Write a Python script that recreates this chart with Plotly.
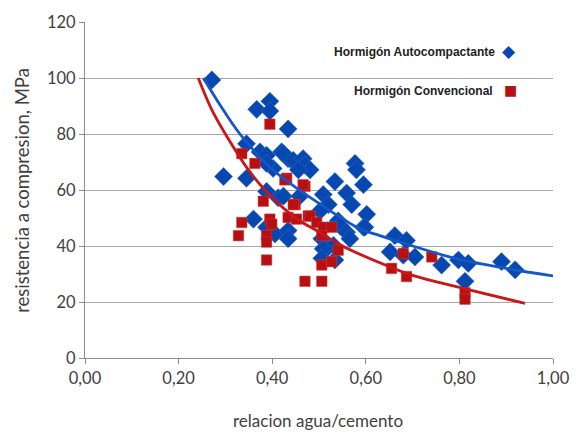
import plotly.graph_objects as go

# Hormigón Autocompactante (blue diamonds)
auto_x = [0.271, 0.367, 0.395, 0.395, 0.434, 0.345, 0.374, 0.388, 0.420, 0.434,
          0.402, 0.388, 0.452, 0.296, 0.345, 0.388, 0.413, 0.459, 0.360, 0.406,
          0.434, 0.434, 0.388, 0.424, 0.445, 0.466, 0.470, 0.481, 0.456, 0.577,
          0.580, 0.534, 0.595, 0.559, 0.509, 0.570, 0.520, 0.602, 0.595, 0.424,
          0.502, 0.541, 0.545, 0.559, 0.566, 0.506, 0.662, 0.652, 0.516, 0.531,
          0.509, 0.506, 0.534, 0.598, 0.687, 0.680, 0.705, 0.762, 0.798, 0.819,
          0.812, 0.890, 0.919]
auto_y = [99.3, 88.8, 91.7, 88.2, 81.8, 76.5, 73.6, 72.4, 73.6, 71.2,
          67.7, 69.5, 68.9, 64.8, 64.2, 59.5, 57.2, 57.8, 49.6, 44.3,
          45.5, 42.6, 46.7, 73.0, 70.6, 71.2, 68.9, 67.2, 67.2, 69.5,
          67.2, 63.0, 61.9, 58.9, 58.4, 54.8, 54.8, 51.3, 46.7, 57.8,
          52.5, 49.0, 47.2, 44.9, 42.6, 42.6, 43.7, 37.9, 39.0, 40.2,
          39.0, 35.6, 35.0, 46.7, 42.0, 36.7, 36.1, 33.2, 35.0, 33.8,
          27.4, 34.4, 31.5]

# Hormigón Convencional (red squares)
conv_x = [0.395, 0.335, 0.363, 0.431, 0.381, 0.449, 0.470, 0.335, 0.328, 0.395,
          0.399, 0.388, 0.388, 0.388, 0.434, 0.452, 0.477, 0.470, 0.427, 0.466,
          0.445, 0.481, 0.495, 0.509, 0.527, 0.506, 0.541, 0.506, 0.527, 0.506,
          0.655, 0.680, 0.741, 0.687, 0.812, 0.812]
conv_y = [83.5, 73.0, 69.5, 64.2, 56.0, 54.8, 61.3, 48.4, 43.7, 49.6,
          47.8, 43.7, 41.4, 35.0, 50.2, 49.6, 50.7, 27.4, 63.6, 61.9,
          54.8, 50.7, 48.4, 46.7, 46.7, 43.7, 38.5, 33.2, 34.4, 27.4,
          32.0, 37.3, 36.1, 29.1, 23.3, 21.0]

# Trend lines
auto_trend_x = [0.253, 0.29, 0.331, 0.4, 0.5, 0.588, 0.63, 0.7, 0.8, 0.9, 1.0]
auto_trend_y = [100.0, 90.0, 80.0, 67.4, 55.2, 46.1, 43.7, 40.0, 35.2, 32.0, 29.3]
conv_trend_x = [0.242, 0.27, 0.3, 0.35, 0.39, 0.45, 0.5, 0.55, 0.63, 0.7, 0.81, 0.94]
conv_trend_y = [100.0, 89.0, 80.0, 67.0, 59.0, 50.0, 45.0, 40.0, 34.0, 29.5, 24.8, 19.5]

x_ticks = [0, 0.2, 0.4, 0.6, 0.8, 1.0]
y_ticks = [0, 20, 40, 60, 80, 100, 120]

BLUE = "#0747b0"
RED = "#b80f10"
BLUE_LINE = "#1458c8"
RED_LINE = "#c8161a"
TXT = "#404040"
FONT = "Lato, Open Sans, sans-serif"
LEG_FONT = "Liberation Sans Narrow, Arial Narrow, sans-serif"

fig = go.Figure()
fig.add_trace(go.Scatter(x=auto_x, y=auto_y, mode="markers", name="Hormigón Autocompactante",
                         marker=dict(symbol="diamond", size=14, color=BLUE,
                                     line=dict(width=0.5, color="#3a6fd0"))))
fig.add_trace(go.Scatter(x=conv_x, y=conv_y, mode="markers", name="Hormigón Convencional",
                         marker=dict(symbol="square", size=10.5, color=RED,
                                     line=dict(width=0.5, color="#d04040"))))
fig.add_trace(go.Scatter(x=auto_trend_x, y=auto_trend_y, mode="lines", line_shape="spline",
                         line=dict(color=BLUE_LINE, width=2.8), showlegend=False))
fig.add_trace(go.Scatter(x=conv_trend_x, y=conv_trend_y, mode="lines", line_shape="spline",
                         line=dict(color=RED_LINE, width=2.8), showlegend=False))

fig.update_layout(
    width=582, height=434,
    margin=dict(l=85, r=29, t=16, b=76),
    plot_bgcolor="white", paper_bgcolor="white",
    showlegend=False,
    separators=",.",
    font=dict(family=FONT, size=16, color=TXT),
)
fig.update_xaxes(range=[0, 1], tickvals=x_ticks, tickformat=".2f",
                 showgrid=False, zeroline=False, showline=True, linecolor="#8c8c8c", linewidth=1,
                 ticks="outside", ticklen=5, tickcolor="#8c8c8c",
                 tickfont=dict(family=FONT, size=16.5, color=TXT))
fig.update_yaxes(range=[0, 120], tickvals=y_ticks,
                 showgrid=True, gridcolor="#a6a6a6", gridwidth=1, zeroline=False,
                 showline=True, linecolor="#8c8c8c", linewidth=1,
                 ticks="outside", ticklen=5, tickcolor="#8c8c8c",
                 tickfont=dict(family=FONT, size=16.5, color=TXT))

anns = [
    dict(text="resistencia a compresion, MPa", x=-0.135, y=0.50, textangle=-90,
         xanchor="center", yanchor="middle", font=dict(family=FONT, size=18.5, color=TXT)),
    dict(text="relacion agua/cemento", x=0.498, y=-0.187,
         xanchor="center", yanchor="middle", font=dict(family=FONT, size=17, color=TXT)),
    dict(text="<b>Hormigón Autocompactante</b>", x=0.880, y=0.912, xanchor="right", yanchor="middle",
         font=dict(family=LEG_FONT, size=12, color="#222222")),
    dict(text="<b>Hormigón Convencional</b>", x=0.876, y=0.795, xanchor="right", yanchor="middle",
         font=dict(family=LEG_FONT, size=12, color="#222222")),
    dict(text="◆", x=0.906, y=0.914, xanchor="center", yanchor="middle",
         font=dict(family="DejaVu Sans", size=17, color=BLUE)),
    dict(text="■", x=0.909, y=0.797, xanchor="center", yanchor="middle",
         font=dict(family="DejaVu Sans", size=14, color=RED)),
]
for a in anns:
    a.update(xref="paper", yref="paper", showarrow=False)
    fig.add_annotation(**a)

fig.write_html("out.html")
